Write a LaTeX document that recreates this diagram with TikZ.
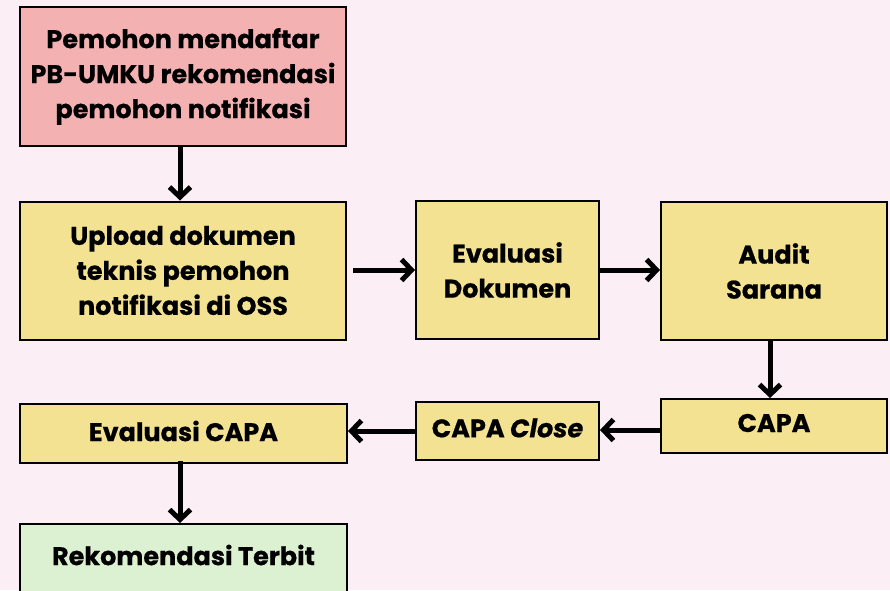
\documentclass[tikz,border=0pt]{standalone}
\usepackage{fontspec}
\setmainfont{Poppins Bold}[ItalicFont={Poppins Bold Italic},FakeBold=0.6]
\usetikzlibrary{arrows.meta}
\definecolor{bgpink}{HTML}{FBEEF4}
\definecolor{boxpink}{HTML}{F4B1B2}
\definecolor{boxyellow}{HTML}{F3E292}
\definecolor{boxgreen}{HTML}{DCF1D2}
\begin{document}
\begin{tikzpicture}[x=1pt,y=-1pt,
  box/.style={draw=black,line width=2pt,inner sep=0pt,align=center,font=\fontsize{25.5}{35}\selectfont},
  lbl/.style={font=\fontsize{25.5}{35}\selectfont},
  arr/.style={line width=5pt,-{Straight Barb[length=10pt,width=21pt,line width=5pt]}},
]
\fill[bgpink] (0,0) rectangle (890,590);
\useasboundingbox (0,0) rectangle (890,590);
\node[box,fill=boxpink,minimum width=326pt,minimum height=139pt] (b1) at (183,76.5) {Pemohon mendaftar\\PB-UMKU rekomendasi\\pemohon notifikasi};
\node[box,fill=boxyellow,minimum width=326pt,minimum height=138pt] (b2) at (183,270.5) {Upload dokumen\\teknis pemohon\\notifikasi di OSS};
\node[box,fill=boxyellow,minimum width=183pt,minimum height=138pt] (b3) at (507.5,270) {Evaluasi\\Dokumen};
\node[box,fill=boxyellow,minimum width=226pt,minimum height=138pt] (b4) at (774,271) {Audit\\Sarana};
\node[box,fill=boxyellow,minimum width=226pt,minimum height=54pt] (b5) at (774,426) {};
\node[lbl] (t5) at (774,423) {CAPA};
\node[box,fill=boxyellow,minimum width=183pt,minimum height=58pt] (b6) at (507.5,431) {};
\node[lbl] (t6) at (507.5,428) {CAPA \textit{Close}};
\node[box,fill=boxyellow,minimum width=327pt,minimum height=59pt] (b7) at (183.5,433.5) {};
\node[lbl] (t7) at (183.5,431) {Evaluasi CAPA};
\node[box,fill=boxgreen,minimum width=327pt,minimum height=80pt,anchor=north] (b8) at (183.5,523) {};
\node[lbl] (t8) at (183.5,555) {Rekomendasi Terbit};
\coordinate (a2s) at (353,270);
\draw[arr] (b1.south -| 180,0) -- (b2.north -| 180,0);
\draw[arr] (a2s) -- (b3.west |- a2s);
\draw[arr] (b3.east) -- (b4.west |- b3.east);
\draw[arr] (b4.south -| 770,0) -- (b5.north -| 770,0);
\draw[arr] (b5.west |- 0,430) -- (b6.east |- 0,430);
\draw[arr] (b6.west |- 0,431) -- (b7.east |- 0,431);
\draw[arr] ([yshift=3pt]b7.south -| 180,0) -- (b8.north -| 180,0);
\end{tikzpicture}
\end{document}
